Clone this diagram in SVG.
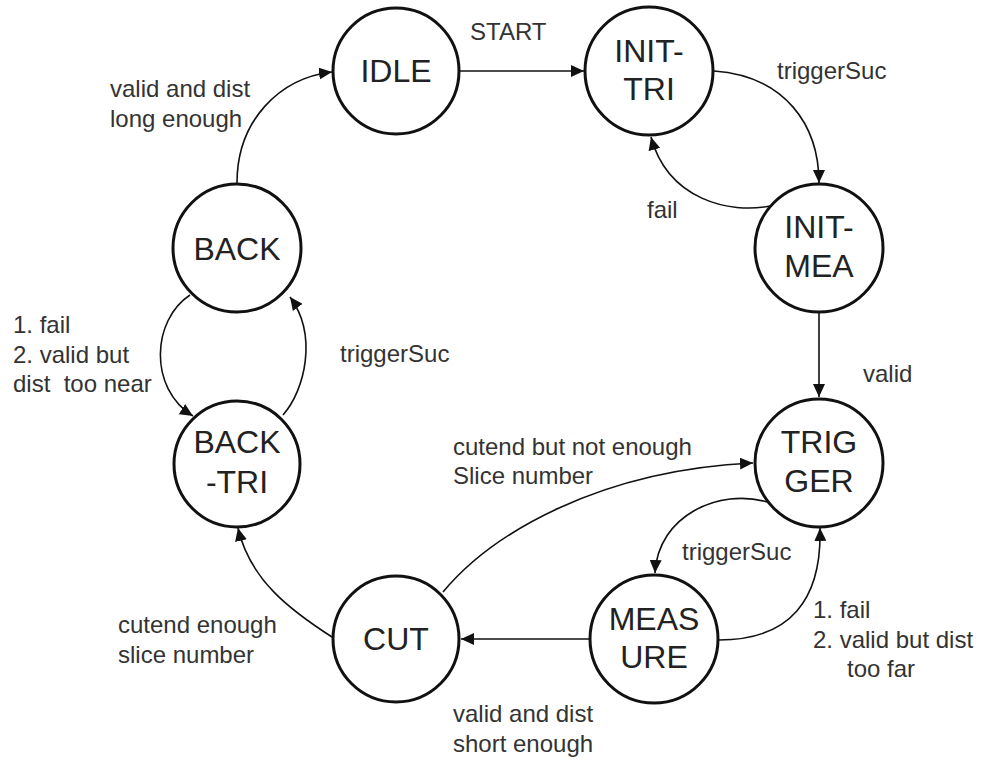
<svg xmlns="http://www.w3.org/2000/svg" width="983" height="760" viewBox="0 0 983 760">
<style>
.node{fill:#fff;stroke:#111;stroke-width:3}
.nt{font-family:"Liberation Sans",Arial,sans-serif;font-size:32px;fill:#222;text-anchor:middle}
.lb{font-family:"Liberation Sans",Arial,sans-serif;font-size:24px;fill:#333;white-space:pre}
.e{fill:none;stroke:#111;stroke-width:1.6;marker-end:url(#ah)}
</style>
<defs>
<marker id="ah" markerUnits="userSpaceOnUse" markerWidth="14" markerHeight="12" refX="13" refY="6" orient="auto">
<path d="M0,0 L13,6 L0,12 Z" fill="#111"/>
</marker>
</defs>
<rect width="983" height="760" fill="#fff"/>
<g id="connectors">
<path class="e" d="M460,71 L584,71"/>
<path class="e" d="M714,71 C785,76 819,125 819,183"/>
<path class="e" d="M770,206 C730,214 668,200 651,137"/>
<path class="e" d="M819,312 L819,397"/>
<path class="e" d="M767,502 C720,488 658,515 655,573"/>
<path class="e" d="M719,640 C790,640 822,600 820,528"/>
<path class="e" d="M589,639 L461,639"/>
<path class="e" d="M443,592 C492,533 600,470 753,463"/>
<path class="e" d="M332,637 C290,610 250,580 238,528"/>
<path class="e" d="M283,415 C305,390 318,335 290,297"/>
<path class="e" d="M190,295 C152,320 148,388 193,416"/>
<path class="e" d="M237,183 C237,120 280,78 332,72"/>
</g>
<g id="labels">
<text class="lb" x="470" y="40">START</text>
<text class="lb" x="777" y="79">triggerSuc</text>
<text class="lb" x="647" y="218">fail</text>
<text class="lb" x="863" y="382">valid</text>
<text class="lb" x="682" y="560">triggerSuc</text>
<text class="lb" x="813" y="618">1. fail</text>
<text class="lb" x="813" y="648">2. valid but dist</text>
<text class="lb" x="847" y="677">too far</text>
<text class="lb" x="453" y="722">valid and dist</text>
<text class="lb" x="453" y="752">short enough</text>
<text class="lb" x="453" y="455">cutend but not enough</text>
<text class="lb" x="453" y="484">Slice number</text>
<text class="lb" x="118" y="633">cutend enough</text>
<text class="lb" x="118" y="663">slice number</text>
<text class="lb" x="340" y="362">triggerSuc</text>
<text class="lb" x="13" y="333">1. fail</text>
<text class="lb" x="13" y="363">2. valid but</text>
<text class="lb" x="13" y="392">dist  too near</text>
<text class="lb" x="110" y="97">valid and dist</text>
<text class="lb" x="110" y="127">long enough</text>
</g>
<g id="IDLE"><circle class="node" cx="396" cy="71" r="63"/><text class="nt" x="396" y="82">IDLE</text></g>
<g id="INIT-TRI"><circle class="node" cx="649" cy="71" r="64"/><text class="nt" x="649" y="62">INIT-</text><text class="nt" x="649" y="100">TRI</text></g>
<g id="INIT-MEA"><circle class="node" cx="819" cy="248" r="64"/><text class="nt" x="819" y="238">INIT-</text><text class="nt" x="819" y="277">MEA</text></g>
<g id="TRIGGER"><circle class="node" cx="819" cy="463" r="64"/><text class="nt" x="819" y="453">TRIG</text><text class="nt" x="819" y="492">GER</text></g>
<g id="MEASURE"><circle class="node" cx="654" cy="639" r="64"/><text class="nt" x="654" y="630">MEAS</text><text class="nt" x="654" y="668">URE</text></g>
<g id="CUT"><circle class="node" cx="396" cy="639" r="63"/><text class="nt" x="396" y="650">CUT</text></g>
<g id="BACK-TRI"><circle class="node" cx="237" cy="464" r="63"/><text class="nt" x="237" y="453">BACK</text><text class="nt" x="237" y="493">-TRI</text></g>
<g id="BACK"><circle class="node" cx="237" cy="248" r="64"/><text class="nt" x="237" y="260">BACK</text></g>
</svg>
